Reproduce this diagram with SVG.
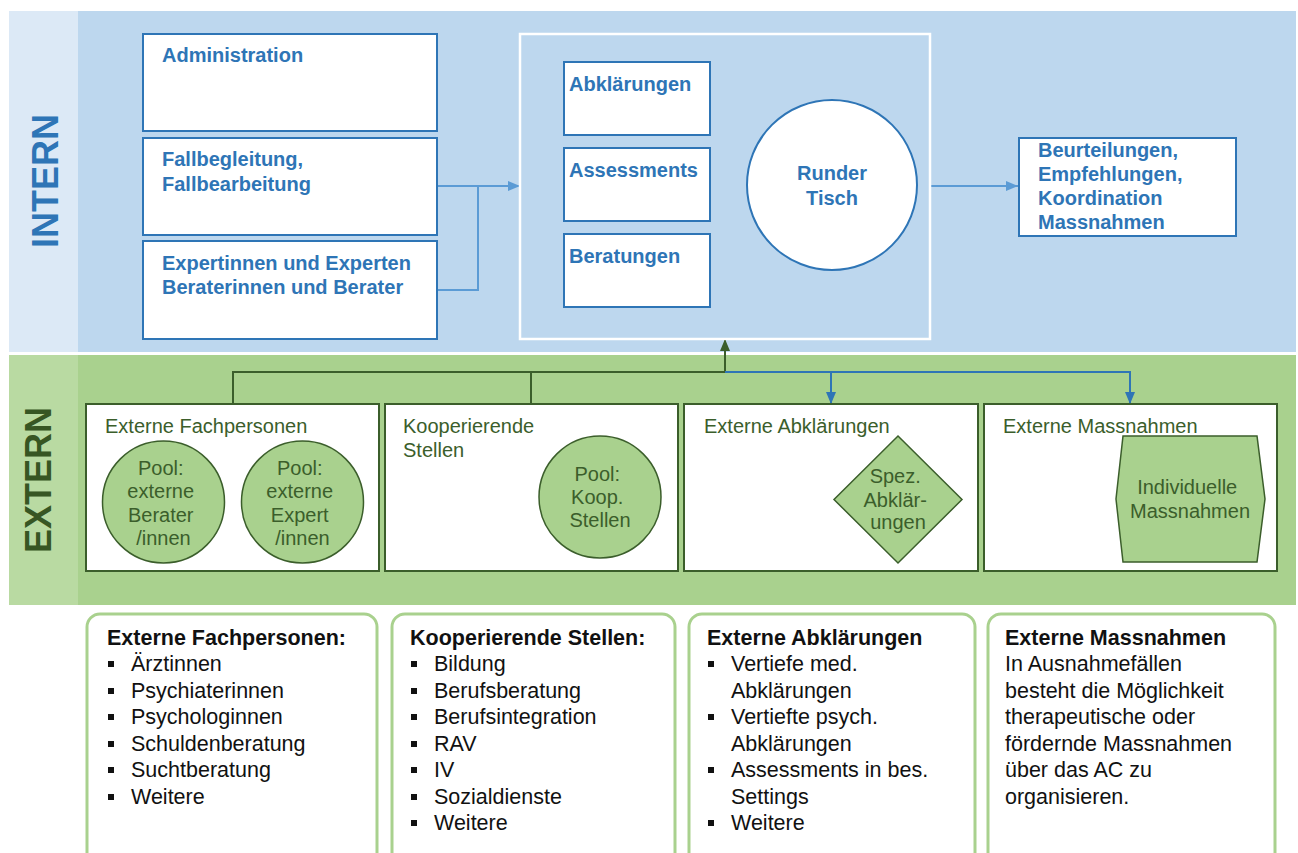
<svg xmlns="http://www.w3.org/2000/svg" width="1298" height="853" viewBox="0 0 1298 853">
  <defs>
    <style>
      .intern-bg { fill: #bdd7ee; }
      .intern-strip { fill: #dce9f6; }
      .extern-bg { fill: #a9d18e; }
      .extern-strip { fill: #b9daa2; }
      .band-label { font-family: "Liberation Sans", Arial, sans-serif; font-weight: 700; font-size: 36px; }
      .box-b { fill: #ffffff; stroke: #2e75b6; stroke-width: 2; }
      .t-b { font-family: "Liberation Sans", Arial, sans-serif; font-weight: bold; font-size: 20px; fill: #2e75b6; }
      .box-g { fill: #ffffff; stroke: #3b5e2b; stroke-width: 2; }
      .shape-g { fill: #a9d18e; stroke: #3b5e2b; stroke-width: 1.5; }
      .t-g { font-family: "Liberation Sans", Arial, sans-serif; font-size: 20px; fill: #3b5e2b; }
      .panel { fill: #ffffff; stroke: #a9d18e; stroke-width: 3; }
      .t-p { font-family: "Liberation Sans", Arial, sans-serif; font-size: 21.5px; fill: #111111; }
      .t-ph { font-family: "Liberation Sans", Arial, sans-serif; font-size: 21.5px; font-weight: bold; fill: #111111; }
      .bullet { fill: #111111; }
      .c-light { fill: none; stroke: #5b9bd5; stroke-width: 2; }
      .c-blue { fill: none; stroke: #2e75b6; stroke-width: 2; }
      .c-green { fill: none; stroke: #3b5e2b; stroke-width: 2; }
    </style>
    <marker id="arrLight" viewBox="0 0 12 10" refX="12" refY="5" markerWidth="12" markerHeight="10" markerUnits="userSpaceOnUse" orient="auto">
      <path d="M0,0 L12,5 L0,10 z" fill="#5b9bd5"/>
    </marker>
    <marker id="arrBlue" viewBox="0 0 12 10" refX="12" refY="5" markerWidth="12" markerHeight="10" markerUnits="userSpaceOnUse" orient="auto">
      <path d="M0,0 L12,5 L0,10 z" fill="#2e75b6"/>
    </marker>
    <marker id="arrGreen" viewBox="0 0 12 10" refX="12" refY="5" markerWidth="12" markerHeight="10" markerUnits="userSpaceOnUse" orient="auto">
      <path d="M0,0 L12,5 L0,10 z" fill="#3b5e2b"/>
    </marker>
  </defs>

  <rect x="0" y="0" width="1298" height="853" fill="#ffffff"/>

  <!-- bands -->
  <g id="band-intern">
    <rect class="intern-bg" x="9" y="11" width="1287" height="341"/>
    <rect class="intern-strip" x="9" y="11" width="69" height="341"/>
    <text class="band-label" font-weight="700" fill="#2e75b6" text-anchor="middle" transform="translate(58,181) rotate(-90)">INTERN</text>
  </g>
  <g id="band-extern">
    <rect class="extern-bg" x="9" y="355" width="1287" height="250"/>
    <rect class="extern-strip" x="9" y="355" width="69" height="250"/>
    <text class="band-label" font-weight="700" fill="#375623" text-anchor="middle" transform="translate(51,480) rotate(-90)">EXTERN</text>
  </g>

  <!-- connectors -->
  <g id="connectors">
    <path class="c-light" d="M437,186 H520" marker-end="url(#arrLight)"/>
    <path class="c-light" d="M437,290 H478 V186"/>
    <path class="c-light" d="M930,186 H1018" marker-end="url(#arrLight)"/>
    <path class="c-green" d="M233,404 V372 H725"/>
    <path class="c-green" d="M531,372 V404"/>
    <path class="c-green" d="M725,372 V339" marker-end="url(#arrGreen)"/>
    <path class="c-blue" d="M725,372 H1130 V404" marker-end="url(#arrBlue)"/>
    <path class="c-blue" d="M831,372 V404" marker-end="url(#arrBlue)"/>
  </g>

  <!-- internal roles -->
  <g id="node-administration">
    <rect class="box-b" x="143" y="34" width="294" height="97"/>
    <text class="t-b" x="162" y="62">Administration</text>
  </g>
  <g id="node-fallbegleitung">
    <rect class="box-b" x="143" y="138" width="294" height="97"/>
    <text class="t-b" x="162" y="166">Fallbegleitung,</text>
    <text class="t-b" x="162" y="191">Fallbearbeitung</text>
  </g>
  <g id="node-experten">
    <rect class="box-b" x="143" y="241" width="294" height="98"/>
    <text class="t-b" x="162" y="270">Expertinnen und Experten</text>
    <text class="t-b" x="162" y="294">Beraterinnen und Berater</text>
  </g>

  <!-- central process container -->
  <g id="node-prozess">
    <rect x="520" y="34" width="410" height="305" fill="none" stroke="#ffffff" stroke-width="2.5"/>
  </g>
  <g id="node-abklaerungen">
    <rect class="box-b" x="564" y="62" width="146" height="73"/>
    <text class="t-b" x="569" y="91">Abklärungen</text>
  </g>
  <g id="node-assessments">
    <rect class="box-b" x="564" y="148" width="146" height="73"/>
    <text class="t-b" x="569" y="177">Assessments</text>
  </g>
  <g id="node-beratungen">
    <rect class="box-b" x="564" y="234" width="146" height="73"/>
    <text class="t-b" x="569" y="263">Beratungen</text>
  </g>
  <g id="node-runder-tisch">
    <circle cx="832" cy="185" r="85" fill="#ffffff" stroke="#2e75b6" stroke-width="2"/>
    <text class="t-b" x="832" y="180" text-anchor="middle">Runder</text>
    <text class="t-b" x="832" y="205" text-anchor="middle">Tisch</text>
  </g>
  <g id="node-beurteilungen">
    <rect class="box-b" x="1019" y="138" width="217" height="98"/>
    <text class="t-b" x="1038" y="157">Beurteilungen,</text>
    <text class="t-b" x="1038" y="181">Empfehlungen,</text>
    <text class="t-b" x="1038" y="205">Koordination</text>
    <text class="t-b" x="1038" y="229">Massnahmen</text>
  </g>

  <!-- external partners -->
  <g id="node-ext-fachpersonen">
    <rect class="box-g" x="86" y="404" width="293" height="167"/>
    <text class="t-g" x="105" y="433">Externe Fachpersonen</text>
    <circle class="shape-g" cx="163.5" cy="502" r="61"/>
    <text class="t-g" text-anchor="middle">
      <tspan x="163.5" y="475">Pool:</tspan>
      <tspan x="163.5" y="498">externe</tspan>
      <tspan x="163.5" y="522">Berater</tspan>
      <tspan x="163.5" y="545">/innen</tspan>
    </text>
    <circle class="shape-g" cx="302.5" cy="502" r="61"/>
    <text class="t-g" text-anchor="middle">
      <tspan x="302.5" y="475">Pool:</tspan>
      <tspan x="302.5" y="498">externe</tspan>
      <tspan x="302.5" y="522">Expert</tspan>
      <tspan x="302.5" y="545">/innen</tspan>
    </text>
  </g>
  <g id="node-kooperierende">
    <rect class="box-g" x="385" y="404" width="293" height="167"/>
    <text class="t-g">
      <tspan x="403" y="433">Kooperierende</tspan>
      <tspan x="403" y="457">Stellen</tspan>
    </text>
    <circle class="shape-g" cx="600" cy="497" r="61"/>
    <text class="t-g" text-anchor="middle">
      <tspan x="600" y="481">Pool:</tspan>
      <tspan x="600" y="504">Koop.</tspan>
      <tspan x="600" y="527">Stellen</tspan>
    </text>
  </g>
  <g id="node-ext-abklaerungen">
    <rect class="box-g" x="684" y="404" width="294" height="167"/>
    <text class="t-g" x="704" y="433">Externe Abklärungen</text>
    <polygon class="shape-g" points="898,436 962,499.5 898,563 834,499.5"/>
    <text class="t-g" text-anchor="middle">
      <tspan x="898" y="483">Spez.</tspan>
      <tspan x="898" y="507">Abklär-</tspan>
      <tspan x="898" y="529">ungen</tspan>
    </text>
  </g>
  <g id="node-ext-massnahmen">
    <rect class="box-g" x="984" y="404" width="293" height="167"/>
    <text class="t-g" x="1003" y="433">Externe Massnahmen</text>
    <polygon class="shape-g" points="1123,436 1257,436 1265,499 1257,562 1123,562 1116,499"/>
    <text class="t-g" text-anchor="middle">
      <tspan x="1190" y="494">Individuelle</tspan>
      <tspan x="1190" y="518">Massnahmen</tspan>
    </text>
  </g>

  <!-- detail panels -->
  <g id="panel-fachpersonen">
    <rect class="panel" x="87" y="614" width="290" height="260" rx="13"/>
    <text class="t-ph" x="107" y="645">Externe Fachpersonen:</text>
    <rect class="bullet" x="108" y="661" width="6" height="6"/>
    <rect class="bullet" x="108" y="688" width="6" height="6"/>
    <rect class="bullet" x="108" y="714" width="6" height="6"/>
    <rect class="bullet" x="108" y="741" width="6" height="6"/>
    <rect class="bullet" x="108" y="767" width="6" height="6"/>
    <rect class="bullet" x="108" y="794" width="6" height="6"/>
    <text class="t-p">
      <tspan x="131" y="671">Ärztinnen</tspan>
      <tspan x="131" y="698">Psychiaterinnen</tspan>
      <tspan x="131" y="724">Psychologinnen</tspan>
      <tspan x="131" y="751">Schuldenberatung</tspan>
      <tspan x="131" y="777">Suchtberatung</tspan>
      <tspan x="131" y="804">Weitere</tspan>
    </text>
  </g>
  <g id="panel-kooperierende">
    <rect class="panel" x="392" y="614" width="283" height="260" rx="13"/>
    <text class="t-ph" x="410" y="645">Kooperierende Stellen:</text>
    <rect class="bullet" x="411" y="661" width="6" height="6"/>
    <rect class="bullet" x="411" y="688" width="6" height="6"/>
    <rect class="bullet" x="411" y="714" width="6" height="6"/>
    <rect class="bullet" x="411" y="741" width="6" height="6"/>
    <rect class="bullet" x="411" y="767" width="6" height="6"/>
    <rect class="bullet" x="411" y="794" width="6" height="6"/>
    <rect class="bullet" x="411" y="820" width="6" height="6"/>
    <text class="t-p">
      <tspan x="434" y="671">Bildung</tspan>
      <tspan x="434" y="698">Berufsberatung</tspan>
      <tspan x="434" y="724">Berufsintegration</tspan>
      <tspan x="434" y="751">RAV</tspan>
      <tspan x="434" y="777">IV</tspan>
      <tspan x="434" y="804">Sozialdienste</tspan>
      <tspan x="434" y="830">Weitere</tspan>
    </text>
  </g>
  <g id="panel-abklaerungen">
    <rect class="panel" x="689" y="614" width="286" height="260" rx="13"/>
    <text class="t-ph" x="707" y="645">Externe Abklärungen</text>
    <rect class="bullet" x="708" y="661" width="6" height="6"/>
    <rect class="bullet" x="708" y="714" width="6" height="6"/>
    <rect class="bullet" x="708" y="767" width="6" height="6"/>
    <rect class="bullet" x="708" y="820" width="6" height="6"/>
    <text class="t-p">
      <tspan x="731" y="671">Vertiefe med.</tspan>
      <tspan x="731" y="698">Abklärungen</tspan>
      <tspan x="731" y="724">Vertiefte psych.</tspan>
      <tspan x="731" y="751">Abklärungen</tspan>
      <tspan x="731" y="777">Assessments in bes.</tspan>
      <tspan x="731" y="804">Settings</tspan>
      <tspan x="731" y="830">Weitere</tspan>
    </text>
  </g>
  <g id="panel-massnahmen">
    <rect class="panel" x="988" y="614" width="287" height="260" rx="13"/>
    <text class="t-ph" x="1005" y="645">Externe Massnahmen</text>
    <text class="t-p">
      <tspan x="1005" y="671">In Ausnahmefällen</tspan>
      <tspan x="1005" y="698">besteht die Möglichkeit</tspan>
      <tspan x="1005" y="724">therapeutische oder</tspan>
      <tspan x="1005" y="751">fördernde Massnahmen</tspan>
      <tspan x="1005" y="777">über das AC zu</tspan>
      <tspan x="1005" y="804">organisieren.</tspan>
    </text>
  </g>
</svg>
